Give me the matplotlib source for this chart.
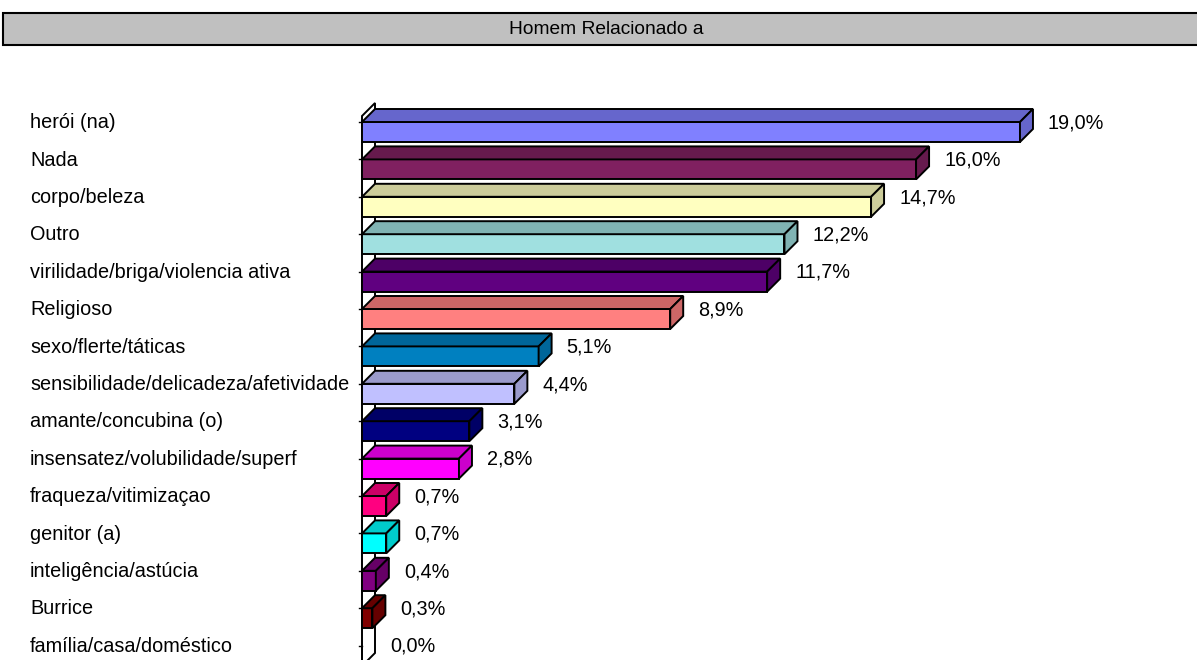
import matplotlib.pyplot as plt
from matplotlib.patches import Polygon, Rectangle
from matplotlib.colors import to_rgb

plt.rcParams['font.family'] = ['Liberation Sans', 'DejaVu Sans']

# data
categories = ['herói (na)', 'Nada', 'corpo/beleza', 'Outro',
              'virilidade/briga/violencia ativa', 'Religioso', 'sexo/flerte/táticas',
              'sensibilidade/delicadeza/afetividade', 'amante/concubina (o)',
              'insensatez/volubilidade/superf', 'fraqueza/vitimizaçao', 'genitor (a)',
              'inteligência/astúcia', 'Burrice', 'família/casa/doméstico']
values = [19.0, 16.0, 14.7, 12.2, 11.7, 8.9, 5.1, 4.4, 3.1, 2.8, 0.7, 0.7, 0.4, 0.3, 0.0]
colors = ['#8080FF', '#802060', '#FFFFC0', '#A0E0E0', '#600080', '#FF8080', '#0080C0',
          '#C0C0FF', '#000080', '#FF00FF', '#FF0080', '#00FFFF', '#800080', '#800000', '#008080']
title = 'Homem Relacionado a'

W, H = 1197, 660
fig = plt.figure(figsize=(W / 100, H / 100), dpi=100)
ax = fig.add_axes([0, 0, 1, 1])

# pixel geometry of the original chart
x0_px, px_per_pct = 362, 34.63
top_px, pitch_px = 122, 37.4
ax.set_xlim(-x0_px / px_per_pct, (W - x0_px) / px_per_pct)
ax.set_ylim((H - top_px) / pitch_px, -top_px / pitch_px)
ax.axis('off')

dx = 13 / px_per_pct      # depth in x (%)
dy = 13 / pitch_px        # depth in y (category units)
h = 20 / pitch_px         # bar thickness
lw = 1.4

# back wall
wall_top = -6 / pitch_px
wall_bot = (H + 6 - top_px) / pitch_px
ax.add_patch(Polygon([(0, wall_top), (dx, wall_top - dy), (dx, wall_bot - dy), (0, wall_bot)],
                     closed=True, facecolor='white', edgecolor='black', lw=lw, zorder=1))

def darker(c, f=0.8):
    r, g, b = to_rgb(c)
    return (r * f, g * f, b * f)

ypos = list(range(len(categories)))
ax.barh(ypos, values, height=h, align='edge', color=colors[:len(values)],
        edgecolor='black', lw=lw, zorder=3)

for i, (v, c) in enumerate(zip(values, colors)):
    y0, y1 = i, i + h
    # little tick on the axis
    ax.plot([-3 / px_per_pct, 0], [y0, y0], color='black', lw=1, zorder=2)
    if v > 0:
        top = Polygon([(0, y0), (v, y0), (v + dx, y0 - dy), (dx, y0 - dy)], closed=True,
                      facecolor=darker(c), edgecolor='black', lw=lw, zorder=3)
        side = Polygon([(v, y0), (v + dx, y0 - dy), (v + dx, y1 - dy), (v, y1)], closed=True,
                       facecolor=darker(c), edgecolor='black', lw=lw, zorder=3)
        ax.add_patch(top)
        ax.add_patch(side)
    ax.text(v + dx + 15 / px_per_pct, y0 + 0.02, f'{v:.1f}%'.replace('.', ','),
            fontsize=14.3, ha='left', va='center', zorder=4)
    ax.text(-332 / px_per_pct, y0 + 0.02, categories[i], fontsize=14.3, ha='left', va='center')

# title box
fig.add_artist(Rectangle((3 / W, 1 - 45 / H), 1.0, 32 / H, transform=fig.transFigure,
                         facecolor='#C0C0C0', edgecolor='black', lw=1.5))
fig.text(606 / W, 1 - 29 / H, title, ha='center', va='center', fontsize=13.8)

fig.savefig('out.png', dpi=100)
